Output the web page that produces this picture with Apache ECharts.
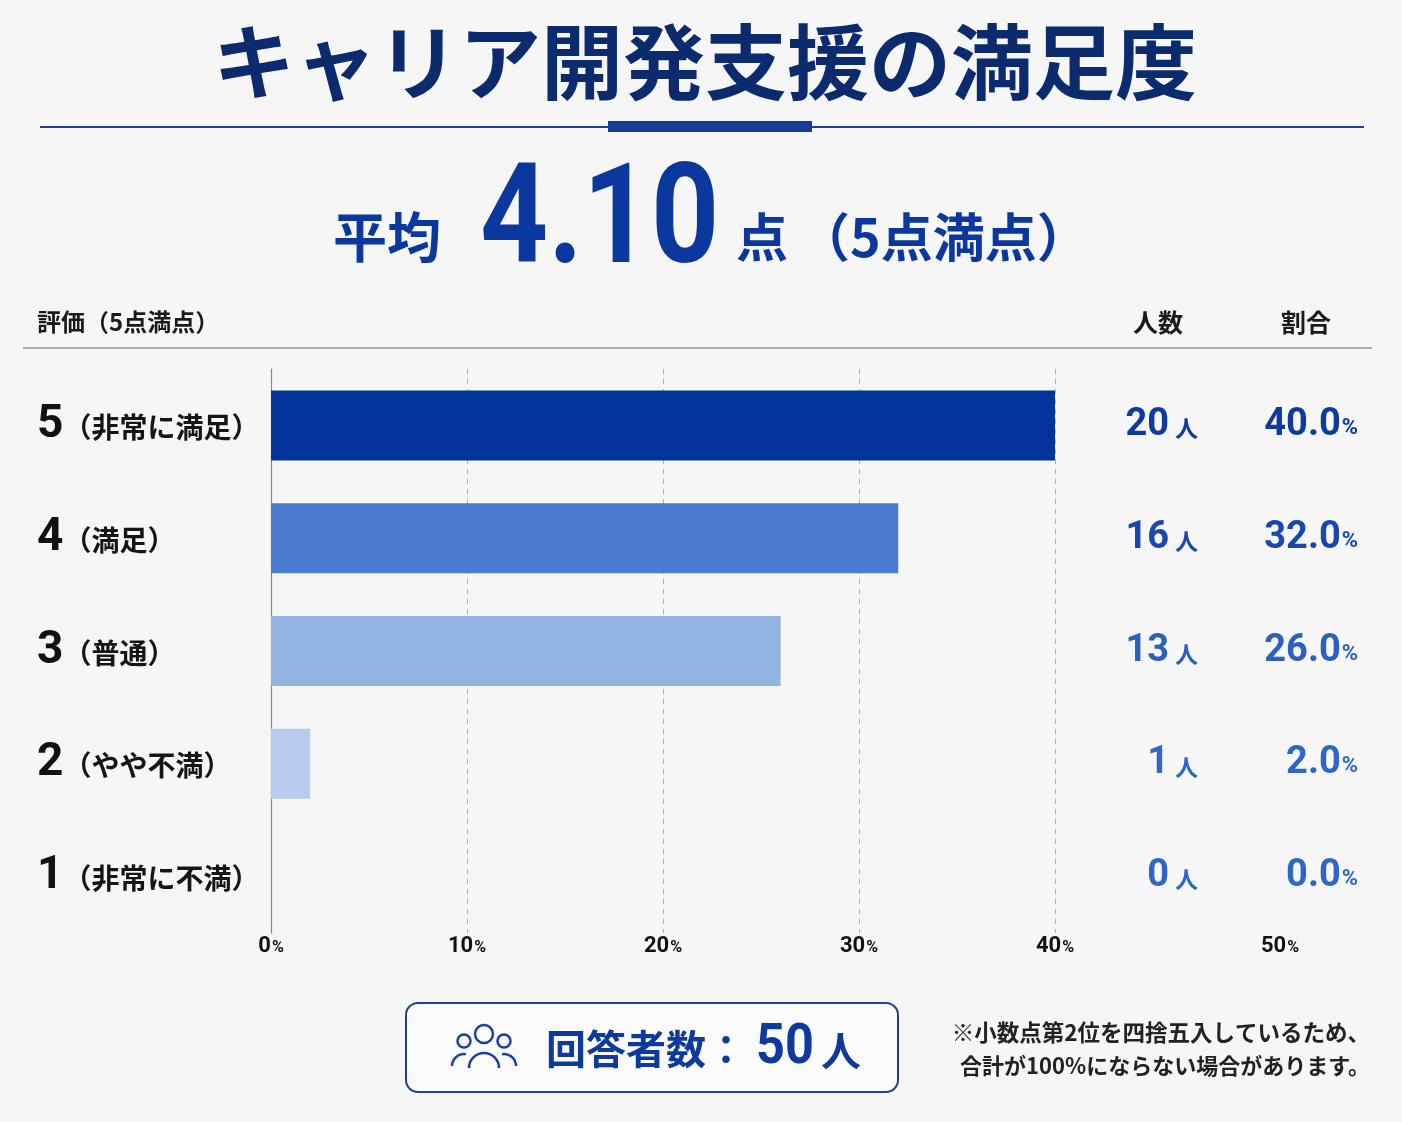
<!DOCTYPE html>
<html>
<head>
<meta charset="utf-8" />
<title>キャリア開発支援の満足度</title>
<script src="https://cdn.jsdelivr.net/npm/echarts@6.0.0/dist/echarts.min.js"></script>
<style>
  html, body { margin: 0; padding: 0; background: #f6f6f7; }
  #chart { width: 1402px; height: 1122px; }
</style>
</head>
<body>
<div id="chart"></div>
<script>
// データ
var ratings = ['5', '4', '3', '2', '1'];
var ratingNames = ['非常に満足', '満足', '普通', 'やや不満', '非常に不満'];
var counts = [20, 16, 13, 1, 0];
var percents = [40.0, 32.0, 26.0, 2.0, 0.0];
var xTicks = [0, 10, 20, 30, 40, 50];
var average = '4.10';
var total = 50;

var barColors = ['#03349a', '#4a7bd1', '#93b3e3', '#b6cbed', '#d6e1f4'];
var numColors = ['#0f3a9e', '#1a47ab', '#2b5fc2', '#2f66c7', '#2f66c7'];

var JP = '"Noto Sans CJK JP", sans-serif';
var NUM = 'Roboto, "Noto Sans", sans-serif';

var chart = echarts.init(document.getElementById('chart'));

var rowRich = {};
var countRich = {};
var pctRich = {};
numColors.forEach(function (c, i) {
  countRich['n' + i] = { fontFamily: NUM, fontWeight: 'bold', fontSize: 38, color: c };
  countRich['u' + i] = { fontFamily: JP, fontWeight: 'bold', fontSize: 23, color: c, padding: [6, 0, 0, 6] };
  pctRich['n' + i] = { fontFamily: NUM, fontWeight: 'bold', fontSize: 38, color: c };
  pctRich['u' + i] = { fontFamily: NUM, fontWeight: 'bold', fontSize: 22, color: c, padding: [6, 0, 0, 1] };
});
rowRich.n = { fontFamily: NUM, fontWeight: 'bold', fontSize: 46, color: '#111' };
rowRich.t = { fontFamily: JP, fontWeight: 'bold', fontSize: 28, color: '#151515', padding: [4, 0, 0, 0] };

var ICON = '#1d3fa0';
function ring(cx, cy, r) {
  return { type: 'circle', shape: { cx: cx, cy: cy, r: r }, style: { fill: 'none', stroke: ICON, lineWidth: 2.5 } };
}
function body(cx, cy, r, a0, a1) {
  return { type: 'arc', shape: { cx: cx, cy: cy, r: r, startAngle: a0, endAngle: a1, clockwise: true }, style: { fill: 'none', stroke: ICON, lineWidth: 2.5 } };
}

chart.setOption({
  backgroundColor: '#f6f6f7',
  animation: false,
  grid: { left: 271, right: 151, top: 369, height: 564 },
  xAxis: {
    type: 'value',
    min: 0,
    max: 50,
    interval: 10,
    axisLine: { show: false },
    axisTick: { show: false },
    splitLine: {
      show: true,
      lineStyle: {
        type: [5, 5],
        width: 1,
        color: ['rgba(0,0,0,0)', '#aeb2ba', '#aeb2ba', '#aeb2ba', '#aeb2ba', 'rgba(0,0,0,0)']
      }
    },
    axisLabel: {
      margin: 2,
      formatter: function (v) {
        // 50% のラベルは右の列の下に寄せる
        return (v === xTicks[xTicks.length - 1] ? '{g|}' : '') + '{n|' + v + '}{p|%}';
      },
      rich: {
        g: { width: 58 },
        n: { fontFamily: NUM, fontWeight: 'bold', fontSize: 22, color: '#111' },
        p: { fontFamily: NUM, fontWeight: 'bold', fontSize: 16, color: '#111', padding: [3, 0, 0, 1] }
      }
    }
  },
  yAxis: [{
    type: 'category',
    inverse: true,
    data: ratings,
    axisLine: { show: true, lineStyle: { color: '#7f889d', width: 1.2 } },
    axisTick: { show: false },
    axisLabel: {
      align: 'left',
      margin: 234,
      formatter: function (v, i) {
        return '{n|' + v + '}{t|（' + ratingNames[i] + '）}';
      },
      rich: rowRich
    }
  }, {
    type: 'category',
    inverse: true,
    position: 'right',
    offset: -53,
    data: ratings,
    axisLine: { show: false },
    axisTick: { show: false },
    axisLabel: {
      align: 'right',
      margin: 0,
      formatter: function (v, i) {
        return '{n' + i + '|' + counts[i] + '}{u' + i + '|人}';
      },
      rich: countRich
    }
  }, {
    type: 'category',
    inverse: true,
    position: 'right',
    offset: 107,
    data: ratings,
    axisLine: { show: false },
    axisTick: { show: false },
    axisLabel: {
      align: 'right',
      margin: 0,
      formatter: function (v, i) {
        return '{n' + i + '|' + percents[i].toFixed(1) + '}{u' + i + '|%}';
      },
      rich: pctRich
    }
  }],
  series: [{
    type: 'bar',
    yAxisIndex: 0,
    barWidth: 70,
    data: percents.map(function (p, i) {
      return { value: p, itemStyle: { color: barColors[i] } };
    })
  }],
  graphic: [
    // タイトル
    { type: 'text', x: 705, y: 62, style: { text: 'キャリア開発支援の満足度', align: 'center', verticalAlign: 'middle', font: 'bold 82px ' + JP, fill: '#0c2b6e' } },
    { type: 'line', shape: { x1: 40, y1: 127, x2: 1364, y2: 127 }, style: { stroke: '#1f3f9f', lineWidth: 2 } },
    { type: 'rect', shape: { x: 608, y: 121, width: 204, height: 11 }, style: { fill: '#1a3a9a' } },
    // 平均
    { type: 'text', x: 333, y: 237, style: { text: '平均', align: 'left', verticalAlign: 'middle', font: 'bold 54px ' + JP, fill: '#0a389e' } },
    { type: 'text', x: 480, y: 227, scaleX: 0.85, style: { text: average, align: 'left', verticalAlign: 'middle', font: 'bold 140px ' + NUM, fill: '#0a389e' } },
    { type: 'text', x: 736, y: 237, style: { text: '点', align: 'left', verticalAlign: 'middle', font: 'bold 52px ' + JP, fill: '#0a389e' } },
    { type: 'text', x: 798, y: 237, style: { text: '（5点満点）', align: 'left', verticalAlign: 'middle', font: 'bold 52px ' + JP, fill: '#0a389e' } },
    // 見出し
    { type: 'text', x: 37, y: 322, style: { text: '評価（5点満点）', align: 'left', verticalAlign: 'middle', font: 'bold 24px ' + JP, fill: '#1a1a1a' } },
    { type: 'text', x: 1158, y: 322, style: { text: '人数', align: 'center', verticalAlign: 'middle', font: 'bold 25px ' + JP, fill: '#1a1a1a' } },
    { type: 'text', x: 1306, y: 322, style: { text: '割合', align: 'center', verticalAlign: 'middle', font: 'bold 25px ' + JP, fill: '#1a1a1a' } },
    { type: 'line', shape: { x1: 23, y1: 348, x2: 1372, y2: 348 }, style: { stroke: '#a9aebb', lineWidth: 2 } },
    // 回答者数
    { type: 'rect', shape: { x: 406, y: 1003, width: 492, height: 89, r: 12 }, style: { fill: '#fbfbfc', stroke: '#1d3fa0', lineWidth: 2 } },
    ring(484, 1034, 9),
    ring(464, 1041, 6.5),
    ring(504, 1041, 6.5),
    body(484, 1068, 15, Math.PI, Math.PI * 2),
    body(464, 1066, 12, Math.PI, Math.PI * 1.55),
    body(504, 1066, 12, Math.PI * 1.45, Math.PI * 2),
    { type: 'text', x: 546, y: 1049, style: { text: '回答者数：', align: 'left', verticalAlign: 'middle', font: 'bold 40px ' + JP, fill: '#0d3a9c' } },
    { type: 'text', x: 756, y: 1049, scaleX: 0.9, style: { text: String(total), align: 'left', verticalAlign: 'middle', font: 'bold 56px ' + NUM, fill: '#0d3a9c' } },
    { type: 'text', x: 821, y: 1051, style: { text: '人', align: 'left', verticalAlign: 'middle', font: 'bold 40px ' + JP, fill: '#0d3a9c' } },
    // 注記
    { type: 'text', x: 1370, y: 1032, style: { text: '※小数点第2位を四捨五入しているため、', align: 'right', verticalAlign: 'middle', font: 'bold 22.5px ' + JP, fill: '#222' } },
    { type: 'text', x: 1370, y: 1066, style: { text: '合計が100%にならない場合があります。', align: 'right', verticalAlign: 'middle', font: 'bold 22px ' + JP, fill: '#222' } }
  ]
});
</script>
</body>
</html>
